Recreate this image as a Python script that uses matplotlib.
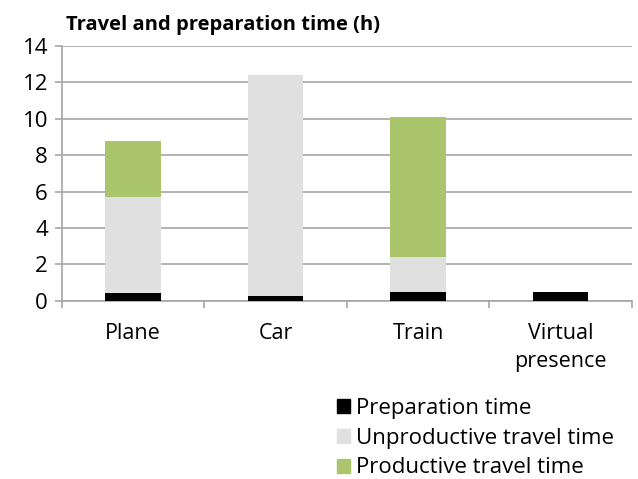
import matplotlib.pyplot as plt
from matplotlib.patches import Patch

plt.rcParams['font.family'] = ['Open Sans', 'DejaVu Sans']

modes = ["Plane", "Car", "Train", "Virtual\npresence"]
prep = [0.45, 0.28, 0.46, 0.46]
unproductive = [5.28, 12.1, 1.94, 0.0]
productive = [3.06, 0.0, 7.69, 0.0]

c_prep = "#000000"
c_unprod = "#e0e0e0"
c_prod = "#aac56c"

fig = plt.figure(figsize=(6.38, 4.79), dpi=100)
ax = fig.add_axes([0.097, 0.372, 0.893, 0.532])

x = list(range(len(modes)))
w = 0.39
ax.bar(x, prep, w, color=c_prep, zorder=3)
ax.bar(x, unproductive, w, bottom=prep, color=c_unprod, zorder=3)
base2 = [a + b for a, b in zip(prep, unproductive)]
ax.bar(x, productive, w, bottom=base2, color=c_prod, zorder=3)

ax.set_ylim(0, 14)
ax.set_xlim(-0.5, len(modes) - 0.5)
ax.set_yticks(range(0, 15, 2))
ax.yaxis.grid(True, color="#a6a6a6", linewidth=1.2, zorder=0)
ax.set_axisbelow(True)

ax.set_xticks([i - 0.5 for i in range(len(modes) + 1)])
ax.set_xticklabels([])
ax.set_xticks(x, minor=True)
ax.set_xticklabels(modes, minor=True, fontsize=15.5, linespacing=1.45)
ax.tick_params(axis="x", which="minor", length=0, pad=16)
ax.tick_params(axis="x", which="major", length=5, color="#a6a6a6", width=1.2)
ax.tick_params(axis="y", length=5, color="#a6a6a6", width=1.2, labelsize=16, pad=5)

for s in ["top", "right"]:
    ax.spines[s].set_visible(False)
for s in ["left", "bottom"]:
    ax.spines[s].set_color("#a6a6a6")
    ax.spines[s].set_linewidth(1.2)

fig.text(0.104, 0.947, "Travel and preparation time (h)", fontsize=14.5,
         fontweight="bold", ha="left", va="center")

handles = [Patch(color=c_prep), Patch(color=c_unprod), Patch(color=c_prod)]
labels = ["Preparation time", "Unproductive travel time", "Productive travel time"]
fig.legend(handles, labels, loc="lower left", bbox_to_anchor=(0.50, -0.036),
           frameon=False, fontsize=16, handlelength=0.6, handleheight=0.6,
           handletextpad=0.25, labelspacing=0.4, borderpad=0.3)

fig.savefig("out.png", dpi=100)
